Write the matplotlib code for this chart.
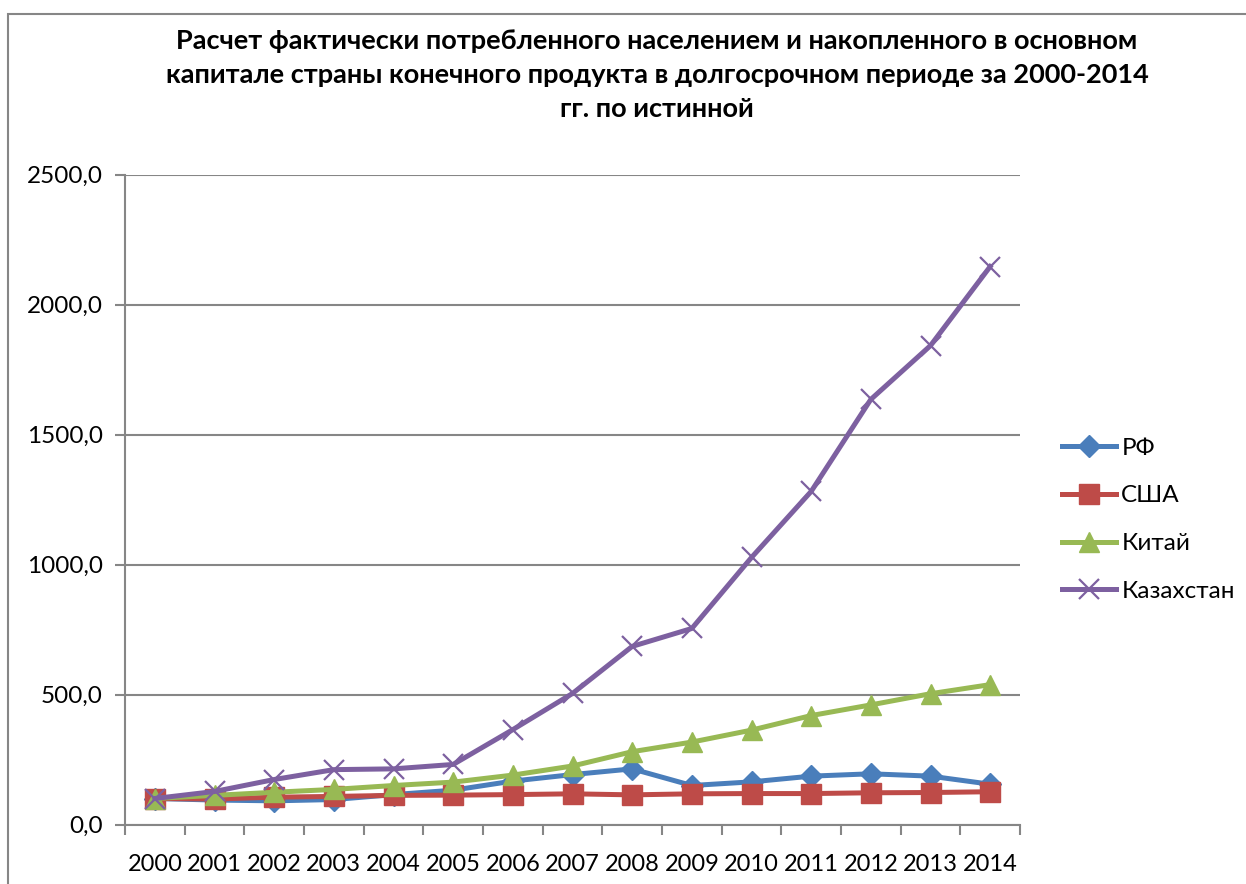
import matplotlib
matplotlib.use("Agg")
import matplotlib.pyplot as plt
from matplotlib.patches import Rectangle
from matplotlib.ticker import FixedLocator, FuncFormatter

plt.rcParams['font.family'] = ['Lato', 'DejaVu Sans']

years = ["2000", "2001", "2002", "2003", "2004", "2005", "2006", "2007",
         "2008", "2009", "2010", "2011", "2012", "2013", "2014"]
rf = [100, 94, 91, 96, 115, 132, 167, 192, 214, 150, 164, 186, 195, 186, 155]
usa = [100, 98, 105, 108, 112, 113, 115, 118, 114, 118, 119, 119, 122, 123, 126]
china = [100, 112, 124, 135, 150, 163, 190, 225, 280, 317, 363, 419, 460, 503, 538]
kaz = [100, 127, 173, 211, 214, 231, 365, 504, 685, 754, 1027, 1281, 1635, 1842, 2146]
series_names = ["РФ", "США", "Китай", "Казахстан"]

title_lines = ["Расчет фактически потребленного населением и накопленного в основном",
               "капитале страны конечного продукта в долгосрочном периоде за 2000-2014",
               "гг. по истинной"]

W, H = 1246, 884
fig = plt.figure(figsize=(W / 100, H / 100), dpi=100)

# outer chart frame
fig.patches.append(Rectangle((8 / W, -0.01), 1.05, (H - 13.5) / H + 0.01,
                             transform=fig.transFigure, fill=False,
                             edgecolor='#868686', linewidth=1.5))

left, right, top, bottom = 125, 1020, 174.5, 824.5
ax = fig.add_axes([left / W, 1 - bottom / H, (right - left) / W, (bottom - top) / H])

x = list(range(len(years)))
grid_c = '#868686'

ax.plot(x, rf, color='#4A7EBB', lw=3.6, marker='D', ms=11, mec='#4A7EBB', mfc='#4A7EBB',
        label=series_names[0], zorder=3)
ax.plot(x, usa, color='#BE4B48', lw=3.6, marker='s', ms=14, mec='#BE4B48', mfc='#BE4B48',
        label=series_names[1], zorder=4)
ax.plot(x, china, color='#98B954', lw=3.6, marker='^', ms=15, mec='#98B954', mfc='#98B954',
        label=series_names[2], zorder=5)
ax.plot(x, kaz, color='#7D60A0', lw=3.6, marker='x', ms=15, mew=1.6, mec='#7D60A0',
        label=series_names[3], zorder=6)

ax.set_xlim(-0.5, len(years) - 0.5)
ax.set_ylim(0, 2500)
ax.set_yticks([0, 500, 1000, 1500, 2000, 2500])
ax.yaxis.set_major_formatter(FuncFormatter(lambda v, p: f"{v:.1f}".replace('.', ',')))
ax.set_xticks(x)
ax.set_xticklabels(years)
ax.xaxis.set_minor_locator(FixedLocator([i - 0.5 for i in range(len(years) + 1)]))
ax.tick_params(axis='x', which='major', length=0, pad=21, labelsize=17)
ax.tick_params(axis='x', which='minor', length=7, width=1.5, color=grid_c, direction='out')
ax.tick_params(axis='y', length=7, width=1.5, color=grid_c, direction='out', pad=9, labelsize=17.5)
ax.grid(axis='y', color=grid_c, lw=1.5)
ax.set_axisbelow(True)
for s in ['top', 'right']:
    ax.spines[s].set_visible(False)
for s in ['left', 'bottom']:
    ax.spines[s].set_color(grid_c)
    ax.spines[s].set_linewidth(1.5)

for i, line in enumerate(title_lines):
    fig.text(657 / W, 1 - (41 + 34 * i) / H, line, ha='center', va='center', fontsize=19.5,
             fontweight='bold')

leg = fig.legend(loc='upper left', bbox_to_anchor=(1052 / W, 1 - 428 / H), frameon=False,
                 fontsize=17.5, handlelength=2.25, handletextpad=0.2, labelspacing=1.1,
                 borderaxespad=0)

fig.savefig("out.png", dpi=100)
